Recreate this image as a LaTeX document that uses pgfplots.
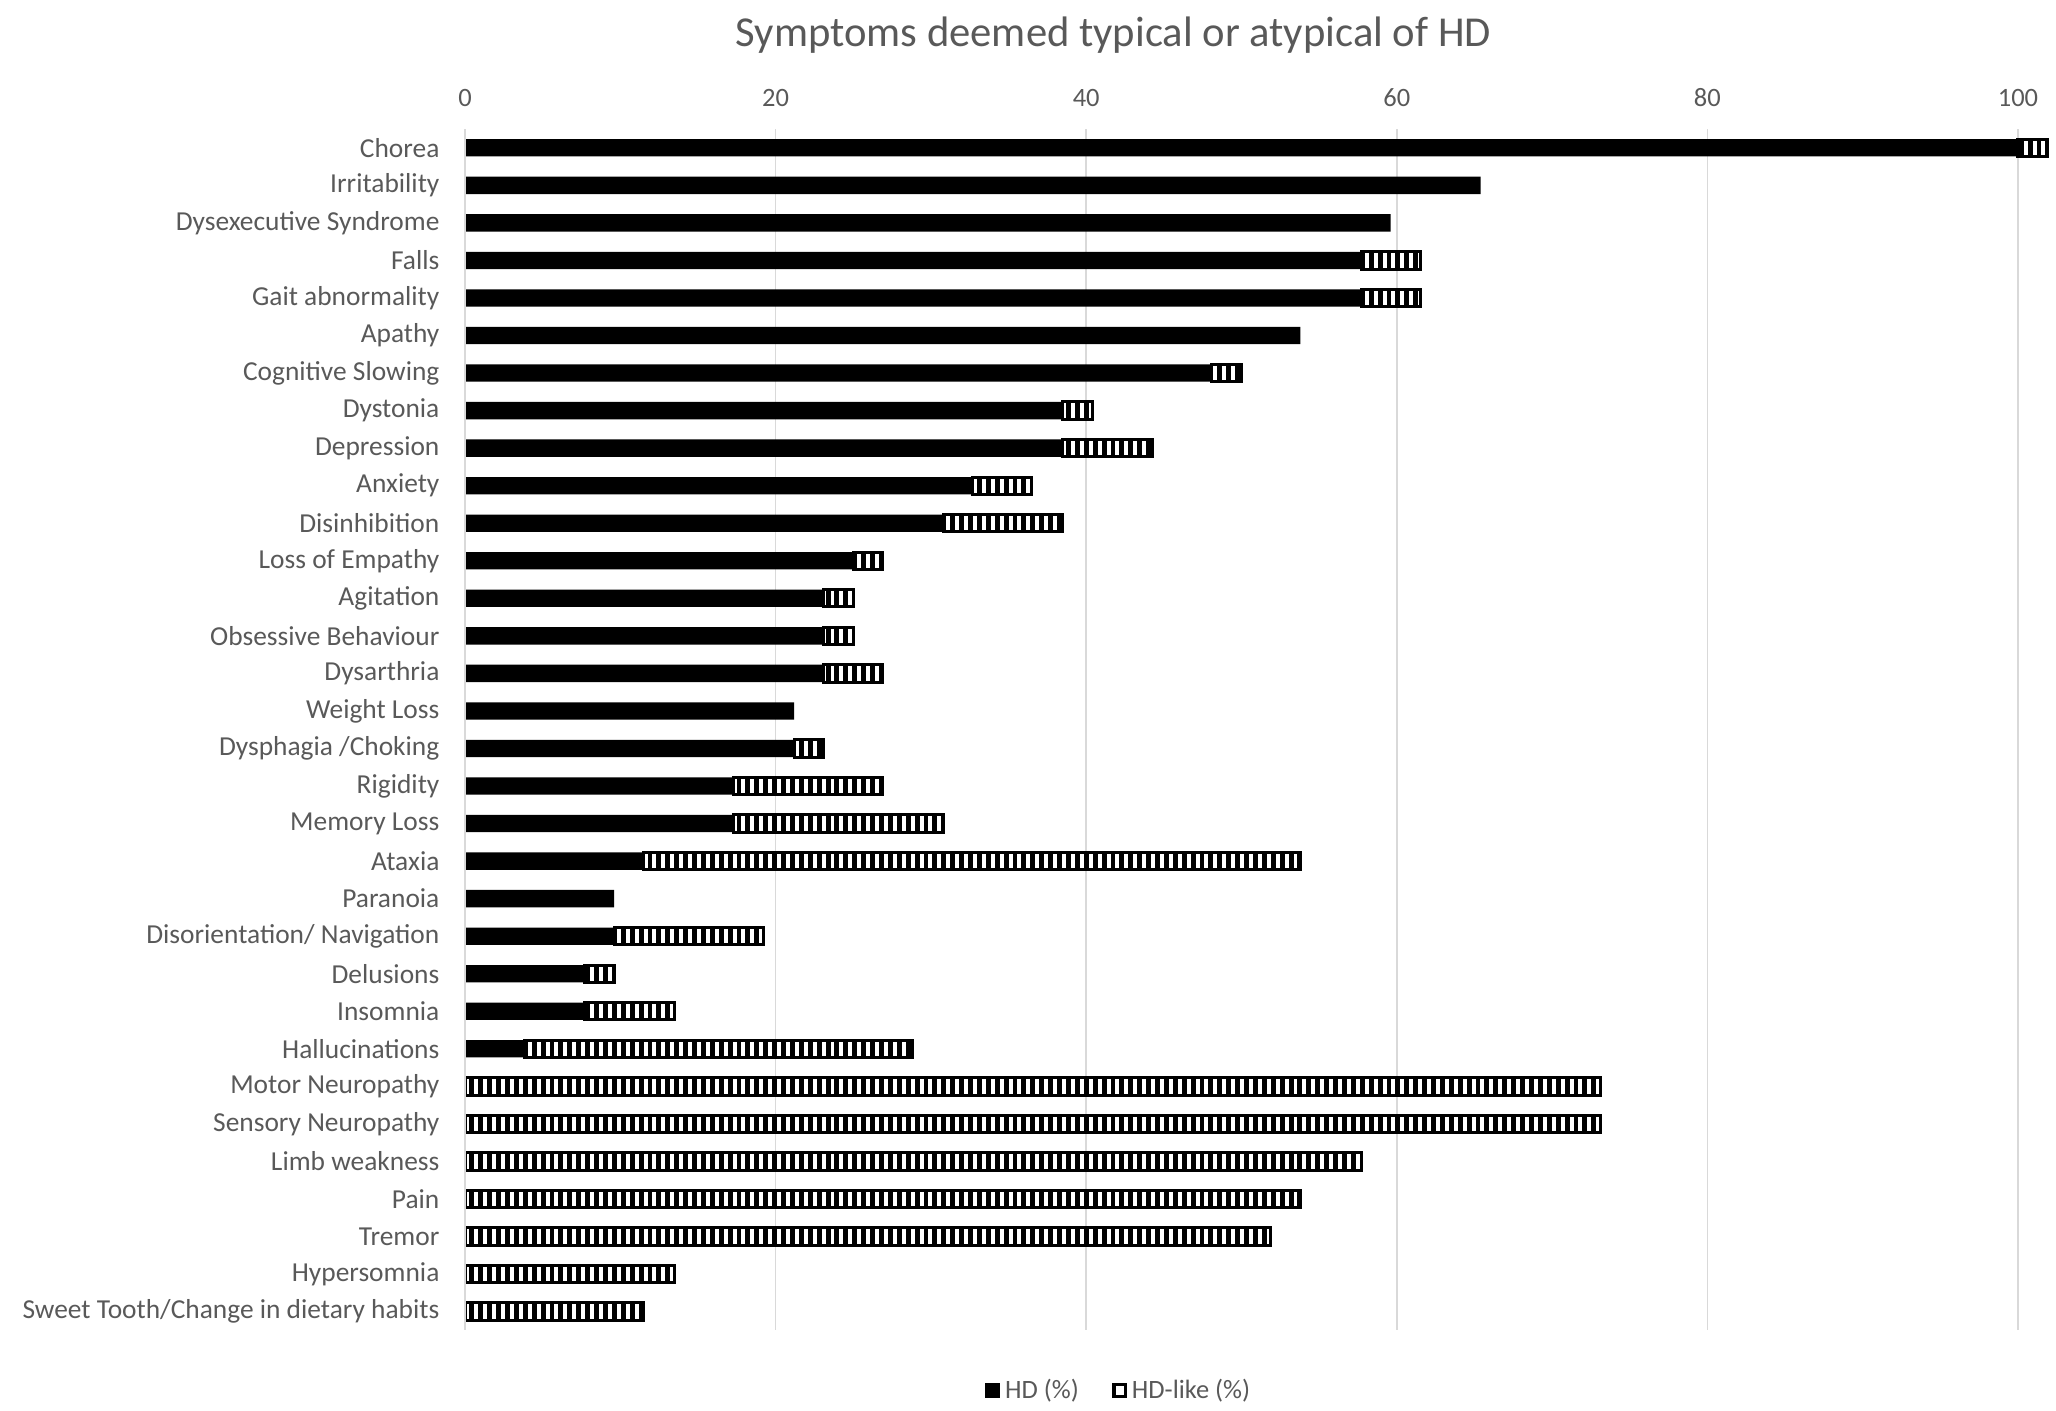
\documentclass[border=0pt]{standalone}
\usepackage{pgfplots}
\usepackage{pgfplotstable}
\pgfplotsset{compat=1.18}
\usepackage{fontspec}
\setmainfont{Carlito}
\usetikzlibrary{patterns.meta}
\definecolor{txt}{HTML}{595959}
\definecolor{grd}{HTML}{D9D9D9}

% idx, HD (%), HD-like (%)
\pgfplotstableread{
idx hd like
0 100.0 1.9
1 65.4 0
2 59.6 0
3 57.7 3.8
4 57.7 3.8
5 53.8 0
6 48.1 1.9
7 38.5 1.9
8 38.5 5.8
9 32.7 3.8
10 30.8 7.7
11 25.0 1.9
12 23.1 1.9
13 23.1 1.9
14 23.1 3.8
15 21.2 0
16 21.2 1.9
17 17.3 9.6
18 17.3 13.5
19 11.5 42.3
20 9.6 0
21 9.6 9.6
22 7.7 1.9
23 7.7 5.8
24 3.8 25.0
25 0 73.1
26 0 73.1
27 0 57.7
28 0 53.8
29 0 51.9
30 0 13.5
31 0 11.5
}\symptoms

\begin{document}
\begin{tikzpicture}
\useasboundingbox (0,0) rectangle (308.4mm,-211.5mm);
\begin{axis}[
  at={(69.75mm,-19.35mm)}, anchor=north west,
  scale only axis, width=237.6mm, height=180.2mm,
  xbar stacked, bar width=2.6mm,
  xmin=0, xmax=102,
  ymin=-0.5, ymax=31.5, y dir=reverse,
  xtick={0,20,40,60,80,100},
  xticklabel pos=upper,
  ytick={0,...,31},
  yticklabels={{Chorea},{Irritability},{Dysexecutive Syndrome},{Falls},{Gait abnormality},{Apathy},{Cognitive Slowing},{Dystonia},{Depression},{Anxiety},{Disinhibition},{Loss of Empathy},{Agitation},{Obsessive Behaviour},{Dysarthria},{Weight Loss},{Dysphagia /Choking},{Rigidity},{Memory Loss},{Ataxia},{Paranoia},{Disorientation/ Navigation},{Delusions},{Insomnia},{Hallucinations},{Motor Neuropathy},{Sensory Neuropathy},{Limb weakness},{Pain},{Tremor},{Hypersomnia},{Sweet Tooth/Change in dietary habits}},
  major tick length=0,
  axis line style={draw=none},
  xmajorgrids, grid style={grd, line width=0.25mm},
  /pgf/number format/assume math mode=true,
  yticklabel style={font=\fontsize{11.7}{13}\selectfont, text=txt, xshift=-2.6mm},
  xticklabel style={font=\fontsize{11.3}{13}\selectfont, text=txt, yshift=2.1mm},
  legend columns=2,
  legend style={at={(0.4135,-0.05)}, anchor=center, draw=none, fill=none,
    font=\fontsize{11.3}{13}\selectfont, text=txt,
    /tikz/every even column/.append style={column sep=4.3mm}},
]
\draw[grd, line width=0.25mm] (axis cs:0,-0.5) -- (axis cs:0,31.5);
\addplot[fill=black, draw=none,
  legend image code/.code={\fill[black] (0mm,-1.15mm) rectangle (2.3mm,1.15mm);}]
  table[x=hd, y=idx] {\symptoms};
\addlegendentry{HD (\%)}
\addplot[draw=black, line width=0.45mm,
  pattern={Lines[angle=90, distance=3.8pt, line width=2.1pt]}, pattern color=black,
  legend image code/.code={\draw[black, line width=0.55mm, fill=white] (0.3mm,-0.9mm) rectangle (2.0mm,0.9mm);}]
  table[x=like, y=idx] {\symptoms};
\addlegendentry{HD-like (\%)}
\end{axis}
\node[text=txt, font=\fontsize{18.2}{22}\selectfont] at (167mm,-5.2mm) {Symptoms deemed typical or atypical of HD};
\end{tikzpicture}
\end{document}
